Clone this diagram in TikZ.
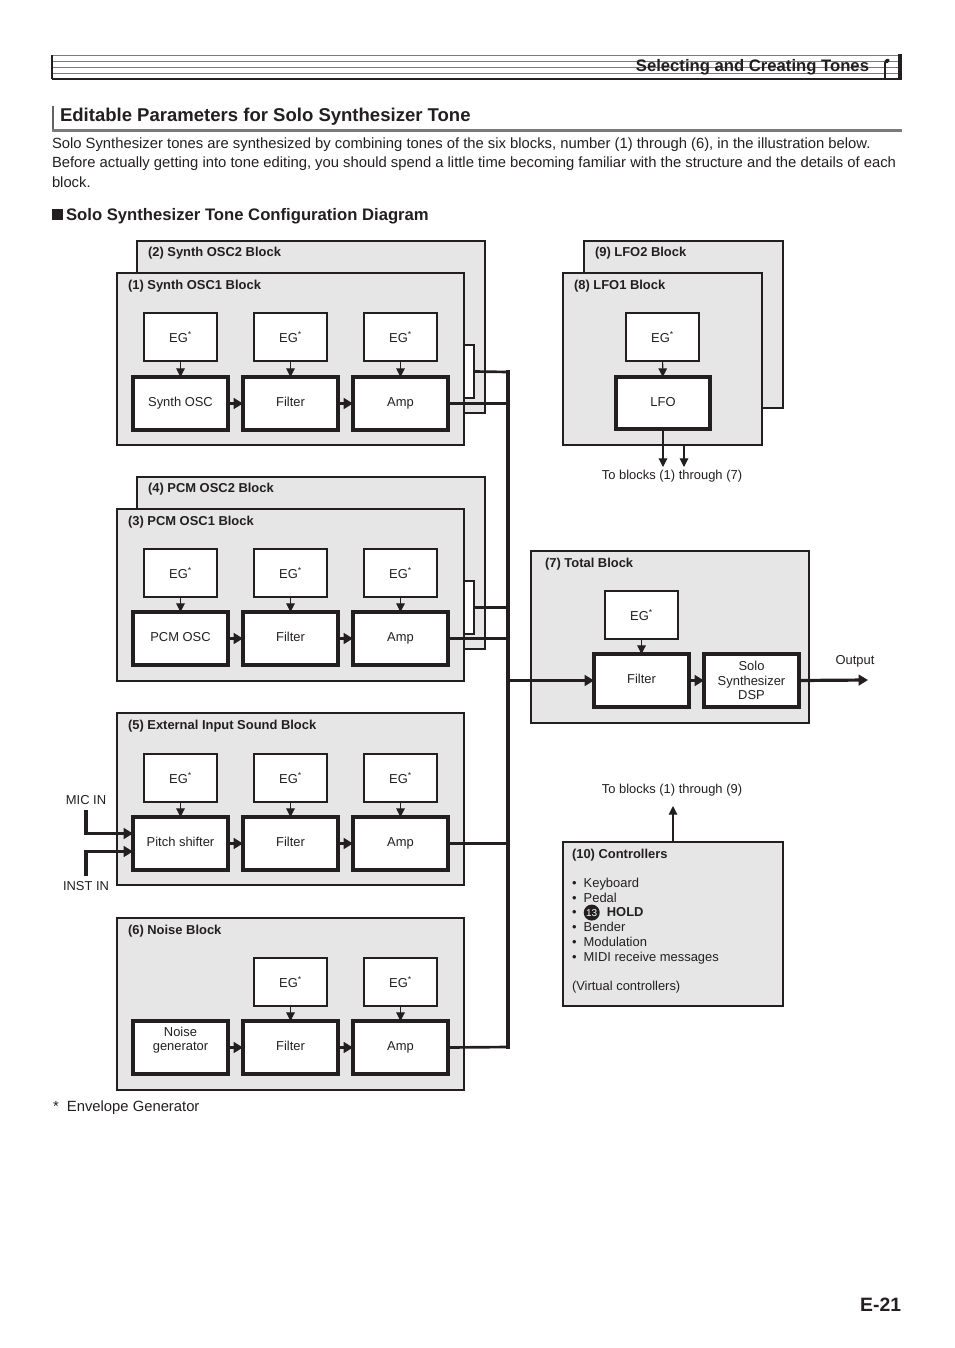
\documentclass[tikz,border=0pt]{standalone}
\usepackage{fontspec}
\setmainfont{Liberation Sans}
\usetikzlibrary{arrows.meta}
\definecolor{blk}{HTML}{E6E6E6}
\definecolor{ink}{HTML}{231F20}
\newcommand\bx[7]{\node[#6,minimum width={(#4-#2)*0.75pt},minimum height={(#5-#3)*0.75pt}] (#1) at ({(#2+#4)/2},{(#3+#5)/2}) {#7};}
\newcommand\egt{EG\textsuperscript{\fontsize{6.5}{6.5}\selectfont*}}
\newsavebox\cthirteen
\sbox\cthirteen{\tikz[baseline=-3.2pt]{\fill[ink] (0,0) circle (6pt); \node[anchor=center,inner sep=0pt,text=white,font=\fontsize{7.5}{7.5}\selectfont] at (0,0) {13};}}
\begin{document}
\begin{tikzpicture}[x=0.75pt,y=-0.75pt,
  every node/.style={inner sep=0pt,outer sep=0pt,text=ink},
  blockbox/.style={draw=ink,fill=blk,line width=0.8pt},
  egbox/.style={draw=ink,fill=white,line width=0.8pt,font=\fontsize{9.7}{11}\selectfont},
  mainbox/.style={draw=ink,fill=white,line width=2.4pt,align=center,font=\fontsize{9.7}{11}\selectfont,text height=7pt,text depth=2pt},
  stub/.style={draw=ink,fill=white,line width=0.8pt},
  title/.style={anchor=west,font=\bfseries\fontsize{9.7}{11}\selectfont},
  lbl/.style={font=\fontsize{9.7}{11}\selectfont},
  thin arrow/.style={draw=ink,line width=0.8pt,-{Triangle[length=6.5pt,width=6.5pt]}},
  thick arrow/.style={draw=ink,line width=2.4pt,-{Triangle[length=7pt,width=8pt]}},
  bus/.style={draw=ink,line width=2.4pt},
  wire/.style={draw=ink,line width=2pt}]
\useasboundingbox (0,0) rectangle (954,1348);
\fill[white] (0,0) rectangle (954,1348);
% header
\foreach \yy in {55,61,67,73} \draw[ink!60,line width=0.6pt] (52,\yy) -- (900,\yy);
\draw[ink,line width=1.8pt] (52,79) -- (901,79);
\draw[ink,line width=0.8pt] (52,55) -- (52,79);
\draw[ink,line width=2.6pt] (900,54) -- (900,80);
\draw[ink,line width=0.8pt] (885,62) -- (885,78);
\fill[ink,rotate around={30:(887,61)}] (887,61) ellipse (2.8 and 2);
\node[anchor=east,font=\bfseries\fontsize{12.5}{14}\selectfont] (hdr) at (869,67) {Selecting and Creating Tones};
% heading
\draw[ink!70,line width=2pt] (53,106) -- (53,131);
\draw[ink!60,line width=2.2pt] (52,130.5) -- (902,130.5);
\node[anchor=west,font=\bfseries\fontsize{13.9}{15}\selectfont] (h1) at (60,117) {Editable Parameters for Solo Synthesizer Tone};
\node[anchor=west,font=\fontsize{11.1}{12}\selectfont] (p1) at (52,145) {Solo Synthesizer tones are synthesized by combining tones of the six blocks, number (1) through (6), in the illustration below.};
\node[anchor=west,font=\fontsize{11.1}{12}\selectfont] (p2) at (52,164) {Before actually getting into tone editing, you should spend a little time becoming familiar with the structure and the details of each};
\node[anchor=west,font=\fontsize{11.1}{12}\selectfont] (p3) at (52,182) {block.};
\node[anchor=west,font=\bfseries\fontsize{12.5}{14}\selectfont] (h2) at (52,216) {\rule{8.5pt}{8.5pt}\,Solo Synthesizer Tone Configuration Diagram};
% ---- blocks
\bx{b2}{137}{241}{485}{413}{blockbox}{}
\node[title] (b2t) at (148,253) {(2) Synth OSC2 Block};
\bx{b1}{117}{273}{464}{445}{blockbox}{}
\node[title] (b1t) at (128,286) {(1) Synth OSC1 Block};
\bx{b4}{137}{477}{485}{649}{blockbox}{}
\node[title] (b4t) at (148,489) {(4) PCM OSC2 Block};
\bx{b3}{117}{509}{464}{681}{blockbox}{}
\node[title] (b3t) at (128,522) {(3) PCM OSC1 Block};
\bx{b5}{117}{713}{464}{885}{blockbox}{}
\node[title] (b5t) at (128,726) {(5) External Input Sound Block};
\bx{b6}{117}{918}{464}{1090}{blockbox}{}
\node[title] (b6t) at (128,931) {(6) Noise Block};
% rows
\newcommand\row[5]{%
  \ifnum#5=1 \bx{#1ea}{144}{#2}{217}{#2+48}{egbox}{\egt}\fi
  \bx{#1eb}{254}{#2}{327}{#2+48}{egbox}{\egt}
  \bx{#1ec}{364}{#2}{437}{#2+48}{egbox}{\egt}
  \bx{#1a}{133}{#3}{228}{#3+53}{mainbox}{#4}
  \bx{#1b}{243}{#3}{338}{#3+53}{mainbox}{Filter}
  \bx{#1c}{353}{#3}{448}{#3+53}{mainbox}{Amp}
  \ifnum#5=1 \draw[thin arrow] (#1ea) -- (#1a);\fi
  \draw[thin arrow] (#1eb) -- (#1b);
  \draw[thin arrow] (#1ec) -- (#1c);
  \draw[thick arrow] (#1a) -- (#1b);
  \draw[thick arrow] (#1b) -- (#1c);}
\row{r1}{313}{377}{Synth OSC}{1}
\row{r3}{549}{612}{PCM OSC}{1}
\row{r5}{754}{817}{Pitch shifter}{1}
\row{r6}{958}{1021}{Noise\\generator}{0}
\bx{s2}{464}{345}{474}{398}{stub}{}
\bx{s4}{464}{581}{474}{634}{stub}{}
% bus
\coordinate (bt) at (508,372);
\coordinate (bb) at (508,1047);
\draw[wire] (s2.east) -- (bt);
\draw[wire] (r1c.east) -- (r1c.east -| bt);
\draw[wire] (s4.east) -- (s4.east -| bt);
\draw[wire] (r3c.east) -- (r3c.east -| bt);
\draw[wire] (r5c.east) -- (r5c.east -| bt);
\draw[wire] (r6c.east) -- (bb);
\draw[bus,line cap=rect] (bt) -- (bb);
% mic/inst
\node[lbl] (mic) at (86,800) {MIC IN};
\node[lbl] (inst) at (86,886) {INST IN};
\coordinate (mica) at (86,810);
\coordinate (insta) at (86,876);
\draw[thick arrow] (mica) |- ([yshift=7.5pt]r5a.west);
\draw[thick arrow] (insta) |- ([yshift=-6pt]r5a.west);
% LFO
\bx{b9}{584}{241}{783}{408}{blockbox}{}
\node[title] (b9t) at (595,253) {(9) LFO2 Block};
\bx{b8}{563}{273}{762}{445}{blockbox}{}
\node[title] (b8t) at (574,286) {(8) LFO1 Block};
\bx{le}{626}{313}{699}{361}{egbox}{\egt}
\bx{lfo}{616}{377}{710}{429}{mainbox}{LFO}
\draw[thin arrow] (le) -- (lfo);
\node[lbl] (to7) at (672,476) {To blocks (1) through (7)};
\coordinate (l2) at (684,445);
\draw[thin arrow] (lfo.south) -- (lfo.south |- 0,467);
\draw[thin arrow] (l2) -- (684,467);
% total
\bx{b7}{531}{551}{809}{723}{blockbox}{}
\node[title] (b7t) at (545,564) {(7) Total Block};
\bx{te}{605}{591}{678}{639}{egbox}{\egt}
\bx{tf}{594}{654}{689}{707}{mainbox}{Filter}
\node[draw=ink,fill=white,line width=2.4pt,align=center,font=\fontsize{9.7}{10.6}\selectfont,minimum width=71.25pt,minimum height=39.75pt] (dsp) at (751.5,680.5) {Solo\\Synthesizer\\DSP};
\draw[thin arrow] (te) -- (tf);
\draw[thick arrow] (tf) -- (dsp);
\draw[thick arrow] (tf.west -| bt) -- (tf);
\node[lbl] (out) at (855,661) {Output};
\coordinate (outend) at (868,680);
\draw[thick arrow] (dsp.east) -- (outend);
% controllers
\bx{b10}{563}{842}{783}{1006}{blockbox}{}
\node[title] (b10t) at (572,855) {(10) Controllers};
\node[lbl] (to9) at (672,790) {To blocks (1) through (9)};
\coordinate (c9) at (673,806);
\draw[thin arrow] (b10.north) -- (c9);
\node[lbl,anchor=north west,align=left,font=\fontsize{9.7}{11.05}\selectfont] (clist) at (572,878) {%
\textbullet\ \ Keyboard\\ \textbullet\ \ Pedal\\ \textbullet\ \ \usebox\cthirteen\ \ \textbf{HOLD}\\ \textbullet\ \ Bender\\ \textbullet\ \ Modulation\\ \textbullet\ \ MIDI receive messages\\[11pt](Virtual controllers)};
% footnote
\node[anchor=west,font=\fontsize{11.1}{12}\selectfont] (fn) at (53,1108) {*\ \ Envelope Generator};
\node[anchor=east,font=\bfseries\fontsize{14.5}{16}\selectfont] (pg) at (901,1305) {E-21};
\end{tikzpicture}
\end{document}
